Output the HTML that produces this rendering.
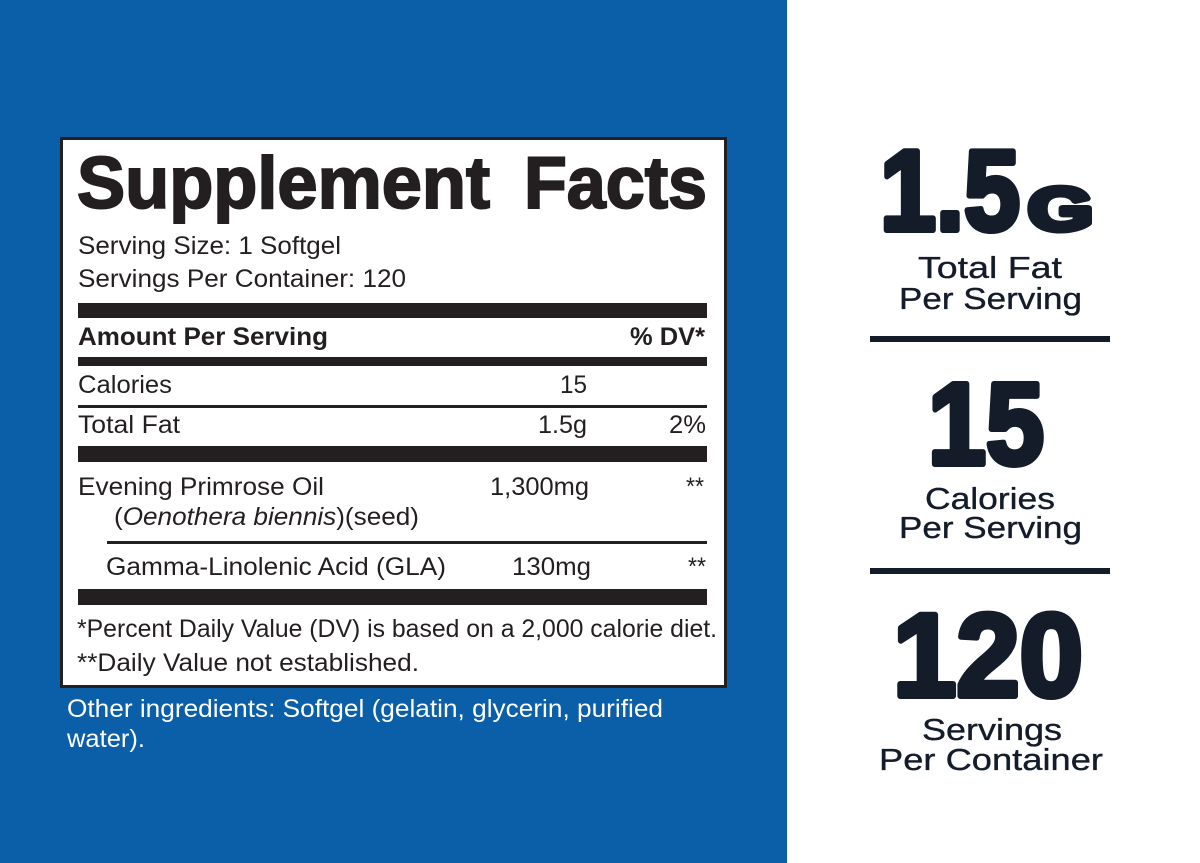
<!DOCTYPE html>
<html>
<head>
<meta charset="utf-8">
<style>
  html, body { margin: 0; padding: 0; background: #fff; }
  svg { display: block; }
  text { font-family: "Liberation Sans", Arial, sans-serif; }
  .lbl { fill: #231f20; font-size: 25px; }
  .b { font-weight: bold; }
  .wh { fill: #ffffff; font-size: 25px; }
  .big { fill: #141c2a; font-weight: bold; stroke: #141c2a; stroke-width: 6px; stroke-linejoin: round; }
  .sub { fill: #141c2a; font-size: 31px; stroke: #141c2a; stroke-width: 0.35px; }
</style>
</head>
<body>
<svg width="1200" height="863" viewBox="0 0 1200 863" xmlns="http://www.w3.org/2000/svg">
  <rect x="0" y="0" width="1200" height="863" fill="#ffffff"/>
  <rect x="0" y="0" width="787" height="863" fill="#0b5ea8"/>

  <rect x="61.5" y="138.5" width="664" height="548" fill="#ffffff" stroke="#231f20" stroke-width="3"/>

  <text x="77" y="208" class="lbl b" style="font-size:73px;stroke:#231f20;stroke-width:2px" textLength="413" lengthAdjust="spacingAndGlyphs">Supplement</text>
  <text x="524" y="208" class="lbl b" style="font-size:73px;stroke:#231f20;stroke-width:2px" textLength="183" lengthAdjust="spacingAndGlyphs">Facts</text>

  <text x="78" y="254" class="lbl" textLength="263" lengthAdjust="spacingAndGlyphs">Serving Size: 1 Softgel</text>
  <text x="78" y="287" class="lbl" textLength="328" lengthAdjust="spacingAndGlyphs">Servings Per Container: 120</text>

  <rect x="78" y="303" width="629" height="15" fill="#231f20"/>

  <text x="78" y="345" class="lbl b" textLength="250" lengthAdjust="spacingAndGlyphs">Amount Per Serving</text>
  <text x="630" y="345" class="lbl b" textLength="75" lengthAdjust="spacingAndGlyphs">% DV*</text>

  <rect x="78" y="357" width="629" height="9" fill="#231f20"/>

  <text x="78" y="393" class="lbl" textLength="94" lengthAdjust="spacingAndGlyphs">Calories</text>
  <text x="560" y="393" class="lbl" textLength="27" lengthAdjust="spacingAndGlyphs">15</text>

  <rect x="78" y="405" width="629" height="3" fill="#231f20"/>

  <text x="78" y="433" class="lbl" textLength="102" lengthAdjust="spacingAndGlyphs">Total Fat</text>
  <text x="538" y="433" class="lbl" textLength="49" lengthAdjust="spacingAndGlyphs">1.5g</text>
  <text x="669" y="433" class="lbl" textLength="37" lengthAdjust="spacingAndGlyphs">2%</text>

  <rect x="78" y="446" width="629" height="16" fill="#231f20"/>

  <text x="78" y="495" class="lbl" textLength="246" lengthAdjust="spacingAndGlyphs">Evening Primrose Oil</text>
  <text x="490" y="495" class="lbl" textLength="99" lengthAdjust="spacingAndGlyphs">1,300mg</text>
  <text x="686" y="495" class="lbl" textLength="18" lengthAdjust="spacingAndGlyphs">**</text>
  <text x="114" y="525" class="lbl" textLength="305" lengthAdjust="spacingAndGlyphs">(<tspan font-style="italic">Oenothera biennis</tspan>)(seed)</text>

  <rect x="107" y="541" width="600" height="3" fill="#231f20"/>

  <text x="106" y="575" class="lbl" textLength="340" lengthAdjust="spacingAndGlyphs">Gamma-Linolenic Acid (GLA)</text>
  <text x="512" y="575" class="lbl" textLength="79" lengthAdjust="spacingAndGlyphs">130mg</text>
  <text x="688" y="575" class="lbl" textLength="18" lengthAdjust="spacingAndGlyphs">**</text>

  <rect x="78" y="589" width="629" height="16" fill="#231f20"/>

  <text x="77" y="637" class="lbl" textLength="640" lengthAdjust="spacingAndGlyphs">*Percent Daily Value (DV) is based on a 2,000 calorie diet.</text>
  <text x="77" y="671" class="lbl" textLength="342" lengthAdjust="spacingAndGlyphs">**Daily Value not established.</text>

  <text x="67" y="717" class="wh" textLength="596" lengthAdjust="spacingAndGlyphs">Other ingredients: Softgel (gelatin, glycerin, purified</text>
  <text x="67" y="747" class="wh" textLength="78" lengthAdjust="spacingAndGlyphs">water).</text>

  <text x="880" y="230" class="big" style="font-size:114px" textLength="140" lengthAdjust="spacingAndGlyphs">1.5</text>
  <text x="1028" y="230" class="big" style="font-size:60px" textLength="65" lengthAdjust="spacingAndGlyphs">G</text>
  <text x="918" y="278" class="sub" textLength="144" lengthAdjust="spacingAndGlyphs">Total Fat</text>
  <text x="899" y="309" class="sub" textLength="183" lengthAdjust="spacingAndGlyphs">Per Serving</text>
  <rect x="870" y="336" width="240" height="6" fill="#141c2a"/>

  <text x="928" y="464" class="big" style="font-size:116px" textLength="116" lengthAdjust="spacingAndGlyphs">15</text>
  <text x="925" y="509" class="sub" textLength="130" lengthAdjust="spacingAndGlyphs">Calories</text>
  <text x="899" y="538" class="sub" textLength="183" lengthAdjust="spacingAndGlyphs">Per Serving</text>
  <rect x="870" y="568" width="240" height="6" fill="#141c2a"/>

  <text x="893" y="696" class="big" style="font-size:118px" textLength="190" lengthAdjust="spacingAndGlyphs">120</text>
  <text x="922" y="740" class="sub" textLength="140" lengthAdjust="spacingAndGlyphs">Servings</text>
  <text x="879" y="770" class="sub" textLength="224" lengthAdjust="spacingAndGlyphs">Per Container</text>
</svg>
</body>
</html>
